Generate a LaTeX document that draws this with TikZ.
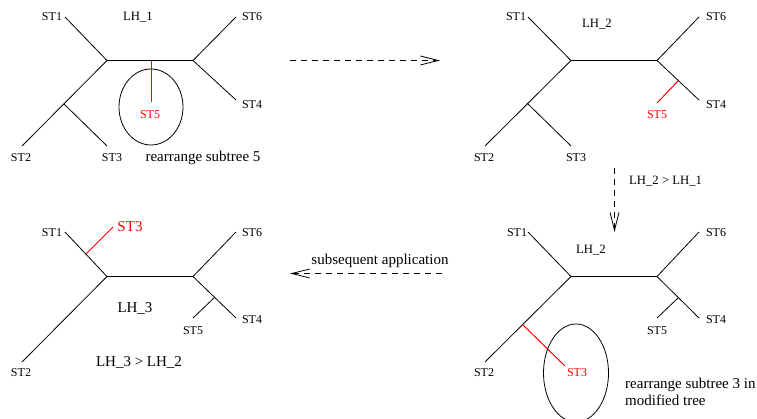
\documentclass[tikz,border=0pt]{standalone}
\usepackage{fontspec}
\setmainfont{Liberation Serif}
\usetikzlibrary{arrows.meta}
\tikzset{
  edge/.style={draw=black, line width=0.8pt},
  redge/.style={draw=red, line width=1pt},
  leaf/.style={font=\fontsize{12}{14}\selectfont, inner sep=0pt, text height=0.66em, text depth=0pt},
  rleaf/.style={leaf, text=red},
  score/.style={font=\fontsize{12.7}{15}\selectfont, inner sep=0pt, text height=0.66em, text depth=0pt},
  caption/.style={font=\fontsize{15}{17}\selectfont, inner sep=0pt, text height=0.66em, text depth=0pt},
  flow/.style={draw, line width=0.8pt, dash pattern=on 6pt off 5pt,
    -{Straight Barb[length=18pt,width=9pt,line width=0.8pt]}},
  loop/.style={draw, line width=0.8pt}
}
\begin{document}
\begin{tikzpicture}[x=1pt,y=-1pt]
\useasboundingbox (0,0) rectangle (757,419);

% ---------- tree LH_1 (top left) ----------
\coordinate (a1) at (107,60.5);
\coordinate (b1) at (193,60.5);
\coordinate (m1) at (64,104);
\coordinate (r1) at (151,61);
\coordinate (t1s1) at (65,17);
\coordinate (t1s6) at (236,17);
\coordinate (t1s4) at (236,100);
\coordinate (t1s2) at (22,146);
\coordinate (t1s3) at (107,146);
\coordinate (t1s5) at (151,102);
\draw[edge] (t1s1) -- (a1) -- (b1) -- (t1s6);
\draw[edge] (b1) -- (t1s4);
\draw[edge] (a1) -- (t1s2);
\draw[edge] (m1) -- (t1s3);
\draw[redge] (r1) -- (t1s5);
\node[leaf] (l1a) at (52,17) {ST1};
\node[leaf] (l1f) at (252,17) {ST6};
\node[leaf] (l1d) at (252,105) {ST4};
\node[leaf] (l1b) at (21,158) {ST2};
\node[leaf] (l1c) at (112,158) {ST3};
\node[rleaf] (l1e) at (150,115) {ST5};
\node[score] (lh1) at (138,17) {LH\_1};
\draw[loop] (151,107) ellipse [x radius=32, y radius=38];
\node[caption] (cap1) at (203,158) {rearrange subtree 5};

% ---------- tree LH_2 (top right) ----------
\coordinate (a2) at (571,60.5);
\coordinate (b2) at (657,60.5);
\coordinate (m2) at (527,103);
\coordinate (n2) at (678,81);
\coordinate (t2s1) at (528,17);
\coordinate (t2s6) at (699,17);
\coordinate (t2s4) at (699,100);
\coordinate (t2s2) at (485,146);
\coordinate (t2s3) at (571,146);
\coordinate (t2s5) at (657,103);
\draw[edge] (t2s1) -- (a2) -- (b2) -- (t2s6);
\draw[edge] (b2) -- (t2s4);
\draw[edge] (a2) -- (t2s2);
\draw[edge] (m2) -- (t2s3);
\draw[redge] (n2) -- (t2s5);
\node[leaf] (l2a) at (516,17) {ST1};
\node[leaf] (l2f) at (716,17) {ST6};
\node[leaf] (l2d) at (716,105) {ST4};
\node[leaf] (l2b) at (484,158) {ST2};
\node[leaf] (l2c) at (576,158) {ST3};
\node[rleaf] (l2e) at (657,115) {ST5};
\node[score] (lh2) at (597,24) {LH\_2};

% ---------- tree LH_2 with subtree 3 marked (bottom right) ----------
\coordinate (a4) at (571,276.5);
\coordinate (b4) at (657,276.5);
\coordinate (m4) at (522,324);
\coordinate (n4) at (678,298);
\coordinate (t4s1) at (528,232);
\coordinate (t4s6) at (699,232);
\coordinate (t4s4) at (699,318);
\coordinate (t4s2) at (485,362);
\coordinate (t4s5) at (657,318);
\coordinate (t4s3) at (565,366);
\draw[edge] (t4s1) -- (a4) -- (b4) -- (t4s6);
\draw[edge] (b4) -- (t4s4);
\draw[edge] (a4) -- (t4s2);
\draw[edge] (n4) -- (t4s5);
\draw[redge] (m4) -- (t4s3);
\node[leaf] (l4a) at (517,233) {ST1};
\node[leaf] (l4f) at (716,233) {ST6};
\node[leaf] (l4d) at (716,320) {ST4};
\node[leaf] (l4b) at (484,373) {ST2};
\node[leaf] (l4e) at (657,331) {ST5};
\node[rleaf] (l4c) at (577,373) {ST3};
\node[score] (lh4) at (591,250) {LH\_2};
\draw[loop] (576,373) ellipse [x radius=32.5, y radius=49];
\node[caption, anchor=west] (cap4a) at (625,385) {rearrange subtree 3 in};
\node[caption, anchor=west] (cap4b) at (625,402) {modified tree};

% ---------- tree LH_3 (bottom left) ----------
\coordinate (a3) at (107,276.5);
\coordinate (b3) at (193,276.5);
\coordinate (m3) at (86,254);
\coordinate (n3) at (214,298);
\coordinate (t3s1) at (65,232);
\coordinate (t3s6) at (236,232);
\coordinate (t3s4) at (236,318);
\coordinate (t3s2) at (22,362);
\coordinate (t3s5) at (193,318);
\coordinate (t3s3) at (113,227);
\draw[edge] (t3s1) -- (a3) -- (b3) -- (t3s6);
\draw[edge] (b3) -- (t3s4);
\draw[edge] (a3) -- (t3s2);
\draw[edge] (n3) -- (t3s5);
\draw[redge] (m3) -- (t3s3);
\node[leaf] (l3a) at (52,233) {ST1};
\node[leaf] (l3f) at (252,233) {ST6};
\node[leaf] (l3d) at (252,320) {ST4};
\node[leaf] (l3b) at (21,373) {ST2};
\node[leaf] (l3e) at (193,331) {ST5};
\node[caption, text=red] (l3c) at (130,228) {ST3};
\node[caption] (lh3) at (135,309) {LH\_3};
\node[caption] (cmp3) at (139,363) {LH\_3 > LH\_2};

% ---------- steps between the trees ----------
\coordinate (f1s) at (290,60.5);
\coordinate (f1e) at (440,60.5);
\draw[flow] (f1s) -- (f1e);

\coordinate (f2s) at (614.5,168);
\coordinate (f2e) at (614.5,232);
\draw[flow] (f2s) -- (f2e);
\node[score, anchor=west] (cmp2) at (629,181) {LH\_2 > LH\_1};

\coordinate (f3s) at (442,273.5);
\coordinate (f3e) at (290,273.5);
\draw[flow] (f3s) -- (f3e);
\node[caption] (sub) at (380,261) {subsequent application};
\end{tikzpicture}
\end{document}
